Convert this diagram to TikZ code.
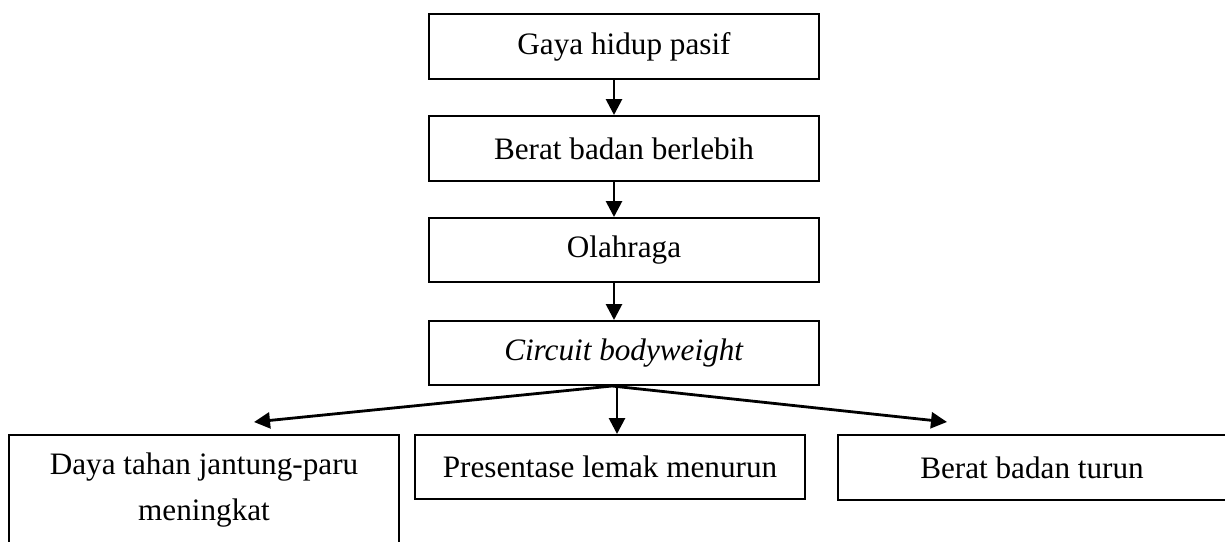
\documentclass[tikz,border=0pt]{standalone}
\usepackage{fontspec}
\setmainfont{Liberation Serif}
\usetikzlibrary{arrows.meta}
\tikzset{
	kotak/.style={draw, line width=2pt, minimum width=390pt, minimum height=65pt, inner sep=0pt, align=center},
	panah/.style={-{Triangle[length=16pt,width=16pt]}, line width=2.8pt}
}
\begin{document}
\begin{tikzpicture}[x=1pt,y=-1pt]
	\fontsize{31.2}{46}\selectfont
	\useasboundingbox (0,0) rectangle (1225,541);
	\node[kotak] (b1) at (624,46.5) {Gaya hidup pasif};
	\node[kotak] (b2) at (624,148.5) {Berat badan berlebih};
	\node[kotak, minimum height=64pt] (b3) at (624,250) {Olahraga};
	\node[kotak, minimum height=64pt] (b4) at (624,353) {\textit{Circuit bodyweight}};
	\node[kotak, minimum height=110pt] (b5) at (204,490) {Daya tahan jantung-paru\\meningkat};
	\node[kotak, minimum height=64pt] (b6) at (610,467) {Presentase lemak menurun};
	\node[kotak, minimum width=388pt, minimum height=65pt] (b7) at (1032,467.5) {Berat badan turun};
	\draw[panah] ([xshift=-10pt]b1.south) -- ([xshift=-10pt]b2.north);
	\draw[panah] ([xshift=-10pt]b2.south) -- ([xshift=-10pt]b3.north);
	\draw[panah] ([xshift=-10pt]b3.south) -- ([xshift=-10pt]b4.north);
	\coordinate (cabang) at ([xshift=-12pt]b4.south);
	\coordinate (kiri) at ([xshift=50pt,yshift=12pt]b5.north);
	\coordinate (kanan) at ([xshift=-85pt,yshift=12pt]b7.north);
	\draw[panah] (cabang) -- (kiri);
	\draw[panah] ([xshift=-7pt]b4.south) -- ([xshift=7pt]b6.north);
	\draw[panah] (cabang) -- (kanan);
\end{tikzpicture}
\end{document}
